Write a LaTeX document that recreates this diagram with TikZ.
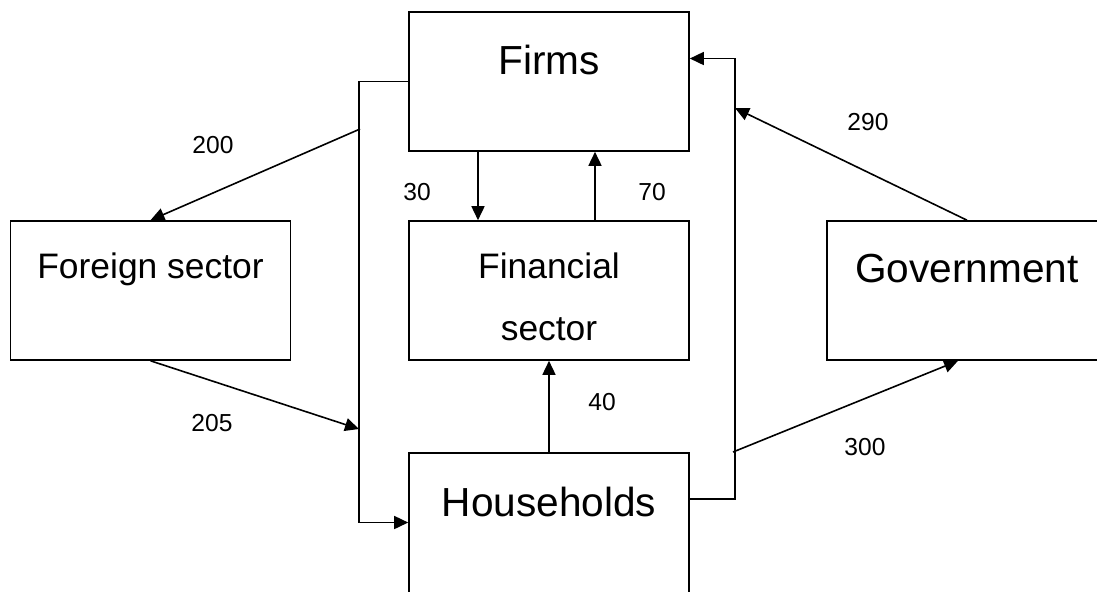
\documentclass[tikz,border=0pt]{standalone}
\usepackage{fontspec}
\setmainfont{Liberation Sans}
\usetikzlibrary{arrows.meta,positioning}
\tikzstyle{box} = [rectangle, draw, minimum width=140pt, minimum height=69.5pt, inner sep=0pt]
\tikzstyle{sector} = [box, font=\fontsize{20.3}{24}\selectfont, text height=14pt, text depth=21pt]
\tikzstyle{amount} = [font=\fontsize{12.3}{14}\selectfont]

\begin{document}
\begin{tikzpicture}[->,>={Triangle[length=7pt,width=6.5pt]},line width=0.8pt,
                    x=0.5pt,y=-0.5pt,node distance=104.5pt]
  \clip (0,0) rectangle (1097,591);
  \node[sector] (firms) at (549,81.5) {Firms};
  \node[box,align=center,font=\fontsize{17.7}{31}\selectfont] (fin) [below of=firms]
        {\rule{0pt}{19pt}Financial\\sector};
  \node[sector,minimum height=72pt,text depth=23pt] (house) [below of=fin, node distance=117.25pt] {Households};
  \node[sector,font=\fontsize{17.7}{21}\selectfont,text height=12pt,text depth=24.5pt]
                (foreign) [left of=fin, node distance=199.25pt] {Foreign sector};
  \node[sector,text depth=22pt] (gov) [right of=fin, node distance=209pt] {Government};

  \coordinate (lbus1) at (360,129);
  \coordinate (lbus2) at (359,429);
  \coordinate (rbus1) at (735,108);
  \coordinate (rbus2) at (733,452);

  \draw (firms.west) -- ++(-49,0) |- ([yshift=1.25pt]house.west);
  \draw (lbus1) -- (foreign.north);
  \draw (foreign.south) -- (lbus2);
  \draw ([yshift=13pt]house.east) -- ++(45,0) |- ([yshift=11.5pt]firms.east);
  \draw (gov.north) -- (rbus1);
  \draw (rbus2) -- ([xshift=-4.5pt]gov.south);
  \draw ([xshift=-35.5pt]firms.south) -- ([xshift=-35.5pt]fin.north);
  \draw ([xshift=23pt]fin.north) -- ([xshift=23pt]firms.south);
  \draw (house.north) -- (fin.south);

  \node[amount] (n30)  at (417,192) {30};
  \node[amount] (n70)  at (652,192) {70};
  \node[amount] (n40)  at (602,402) {40};
  \node[amount] (n200) at (213,145) {200};
  \node[amount] (n205) at (212,423) {205};
  \node[amount] (n290) at (868,122) {290};
  \node[amount] (n300) at (865,447) {300};
\end{tikzpicture}
\end{document}
